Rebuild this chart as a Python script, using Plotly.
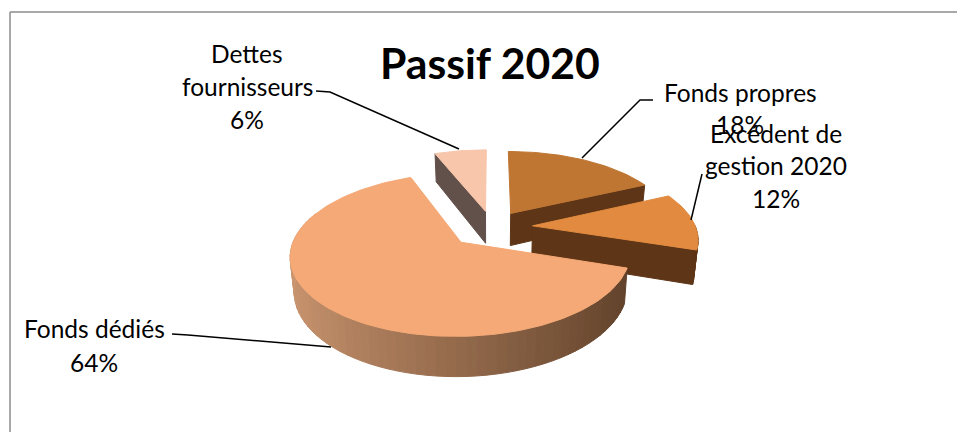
import numpy as np
import plotly.graph_objects as go

# slices in drawing-clockwise order from 12 o'clock
labels = ['Fonds propres', 'Excédent de gestion 2020', 'Fonds dédiés', 'Dettes fournisseurs']
values = [18, 12, 64, 6]
pulls = [0.22, 0.25, 0.27, 0.22]
top_colors = ['#BF7633', '#E28B40', '#F5A976', '#F7C6AB']
wall_colors = ['#5E3516', '#5E3516', None, '#62504A']

# label text, one line each, with its position
label_lines = [
    ['Dettes', 'fournisseurs', '6%'],
    ['Fonds propres', '18%'],
    ['Excédent de', 'gestion 2020', '12%'],
    ['Fonds dédiés', '64%'],
]
label_pos = [(247, 53, 33), (740, 92, 32), (776, 133, 32.5), (94, 328, 34)]

leaders = [
    ([316, 330, 459], [91, 92, 149]),
    ([653, 640, 582], [100, 100, 158]),
    ([702, 691], [174, 220]),
    ([172, 188, 331], [334, 335, 347]),
]

# perspective of the tilted disc
CX, CY = 492, 227
RX, RY = 163, 75
K = 0.15
DEPTH = 33


def project(X, Y, z=0.0):
    w = 1 + K * Y
    sc = 1 - 0.02 * z
    return CX + RX * sc * X / w, CY - RY * Y / w + DEPTH * z / w


def arc(start, end, pull, mid, z=0.0, step=1.5):
    th = np.radians(np.arange(start, end + step / 2, step))
    th[-1] = np.radians(end)
    m = np.radians(mid)
    X = pull * np.sin(m) + np.sin(th)
    Y = pull * np.cos(m) + np.cos(th)
    return project(X, Y, z)


def poly(fig, xs, ys, color):
    fig.add_trace(go.Scatter(x=list(xs), y=list(ys), mode='lines', fill='toself',
                             fillcolor=color, line=dict(color=color, width=1),
                             hoverinfo='skip', showlegend=False))


def mix(c1, c2, t):
    a = np.array(c1)
    b = np.array(c2)
    r, g, bl = (a + (b - a) * t).round().astype(int)
    return f'rgb({r},{g},{bl})'


def draw_slice(fig, i, start, end):
    mid = (start + end) / 2
    pull = pulls[i]
    m = np.radians(mid)
    apex = (pull * np.sin(m), pull * np.cos(m))

    # radial walls that face the viewer
    for ang in (start, end):
        if wall_colors[i] is None:
            continue
        normal_y = np.cos(np.radians(ang + 90 if ang == end else ang - 90))
        if normal_y < 0:
            ox, oy = arc(ang, ang + 0.1, pull, mid, step=0.1)
            bx, by = arc(ang, ang + 0.1, pull, mid, z=1, step=0.1)
            ax0, ay0 = project(*apex)
            ax1, ay1 = project(*apex, z=1)
            poly(fig, [ax0, ox[0], bx[0], ax1, ax0], [ay0, oy[0], by[0], ay1, ay0], wall_colors[i])

    # outer wall, only the near part of the rim
    lo = max(start, 90)
    hi = min(end, 292 if i == 2 else 270)
    if lo < hi:
        edges = np.arange(lo, hi, 3.0)
        for a0 in edges:
            a1 = min(a0 + 3.0, hi)
            tx, ty = arc(a0, a1, pull, mid)
            bx, by = arc(a0, a1, pull, mid, z=1)
            if wall_colors[i] is None:
                t = np.clip((np.sin(np.radians(a0)) + 1) / 2, 0, 1)
                col = mix((203, 150, 112), (95, 64, 41), t)
            else:
                col = wall_colors[i]
            poly(fig, np.r_[tx, bx[::-1], tx[0]], np.r_[ty, by[::-1], ty[0]], col)

    # top face
    tx, ty = arc(start, end, pull, mid)
    ax0, ay0 = project(*apex)
    poly(fig, np.r_[ax0, tx, ax0], np.r_[ay0, ty, ay0], top_colors[i])


fig = go.Figure()

shares = np.array(values) / sum(values) * 360
stops = np.r_[0, np.cumsum(shares)]
for i in [3, 0, 1, 2]:
    draw_slice(fig, i, stops[i], stops[i + 1])

for lx, ly in leaders:
    fig.add_trace(go.Scatter(x=lx, y=ly, mode='lines', line=dict(color='black', width=1.5),
                             hoverinfo='skip', showlegend=False))

annotations = [dict(x=490, y=62, text='<b>Passif 2020</b>', showarrow=False,
                    font=dict(family='Lato', size=42.7, color='black'))]
for lines, (px, py, gap) in zip(label_lines, label_pos):
    for n, line in enumerate(lines):
        annotations.append(dict(x=px, y=py + n * gap, text=line, showarrow=False,
                                font=dict(family='Lato', size=24.5, color='black')))

fig.update_layout(
    width=957, height=432,
    margin=dict(l=0, r=0, t=0, b=0),
    paper_bgcolor='white', plot_bgcolor='white',
    xaxis=dict(range=[0, 957], visible=False, fixedrange=True),
    yaxis=dict(range=[432, 0], visible=False, fixedrange=True),
    annotations=annotations,
    shapes=[
        dict(type='line', x0=10, x1=10, y0=12, y1=432, line=dict(color='#8C8C8C', width=1.5)),
        dict(type='line', x0=10, x1=957, y0=12, y1=12, line=dict(color='#8C8C8C', width=1.5)),
    ],
)

# the page's default body margin would push the chart 8px in
fig.write_html("out.html", config=dict(displayModeBar=False),
               post_script="document.body.style.margin='0';document.documentElement.style.overflow='hidden';")
